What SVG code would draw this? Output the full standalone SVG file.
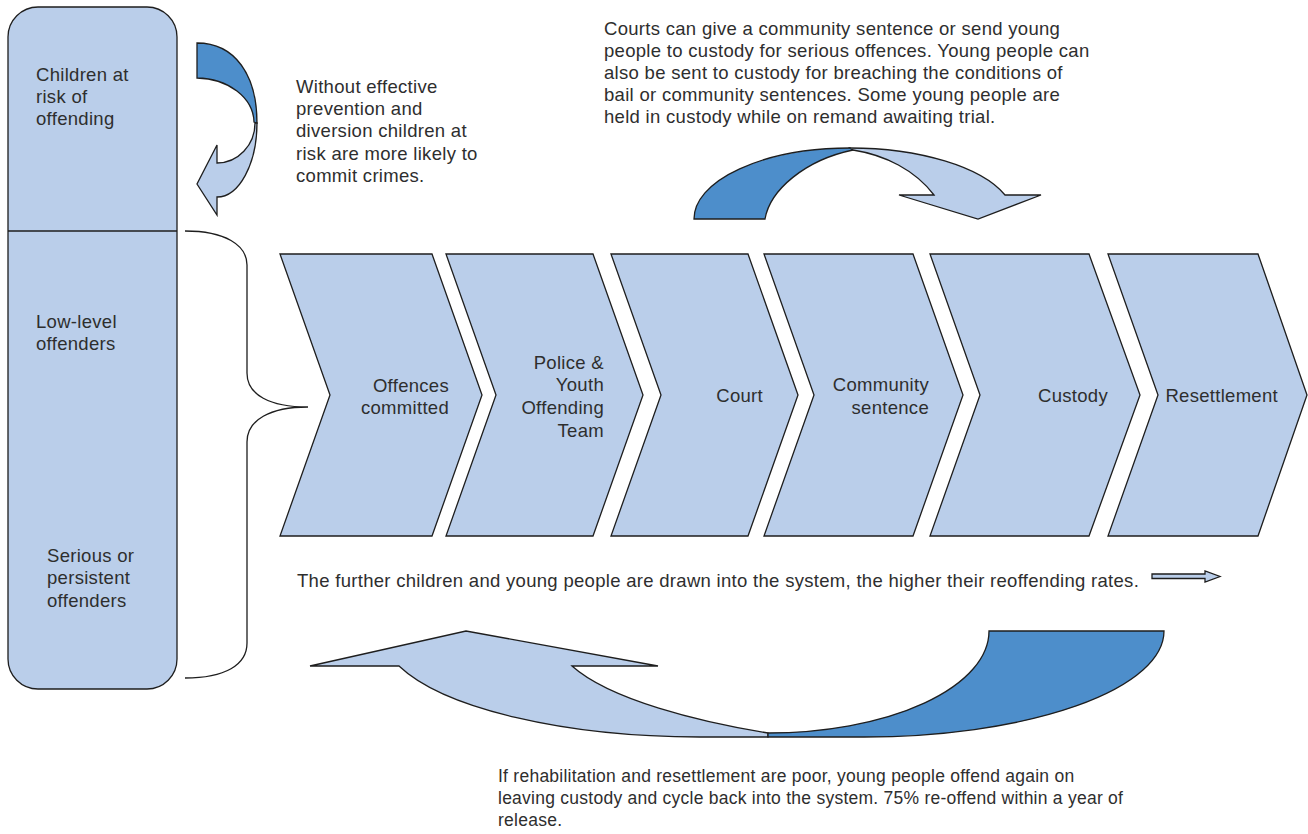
<svg xmlns="http://www.w3.org/2000/svg" width="1308" height="834" viewBox="0 0 1308 834">
<style>
.lb{fill:#BACEEA;stroke:#1e1e1e;stroke-width:1.3;stroke-linejoin:miter}
.db{fill:#4D8ECB;stroke:#1e1e1e;stroke-width:1.3}
.ln{fill:none;stroke:#1e1e1e;stroke-width:1.3}
text{font-family:"Liberation Sans",Arial,sans-serif;font-size:18.5px;letter-spacing:0.3px;fill:#2e2e2e}
.r{text-anchor:end}
.s{font-size:17.5px;letter-spacing:0.25px}
</style>
<rect width="1308" height="834" fill="#fff"/>
<g id="panel">
<rect class="lb" x="8" y="7" width="169" height="682" rx="30"/>
<line class="ln" x1="8" y1="231" x2="177" y2="231"/>
<text x="36" y="81">Children at</text>
<text x="36" y="103">risk of</text>
<text x="36" y="125">offending</text>
<text x="36" y="328">Low-level</text>
<text x="36" y="350">offenders</text>
<text x="47" y="562">Serious or</text>
<text x="47" y="584">persistent</text>
<text x="47" y="607">offenders</text>
</g>
<g id="chevron-offences">
<polygon class="lb" points="280,254 432,254 482,395 432,536 280,536 330,395"/>
<text class="r" x="449" y="392">Offences</text>
<text class="r" x="449" y="414">committed</text>
</g>
<g id="chevron-police">
<polygon class="lb" points="446,254 593,254 643,395 593,536 446,536 496,395"/>
<text class="r" x="604" y="369">Police &amp;</text>
<text class="r" x="604" y="391">Youth</text>
<text class="r" x="604" y="414">Offending</text>
<text class="r" x="604" y="437">Team</text>
</g>
<g id="chevron-court">
<polygon class="lb" points="611,254 748,254 798,395 748,536 611,536 661,395"/>
<text class="r" x="763" y="402">Court</text>
</g>
<g id="chevron-community">
<polygon class="lb" points="764,254 913,254 963,395 913,536 764,536 814,395"/>
<text class="r" x="929" y="391">Community</text>
<text class="r" x="929" y="414">sentence</text>
</g>
<g id="chevron-custody">
<polygon class="lb" points="930,254 1089,254 1140,395 1089,536 930,536 980,395"/>
<text class="r" x="1108" y="402">Custody</text>
</g>
<g id="chevron-resettlement">
<polygon class="lb" points="1108,254 1258,254 1307,395 1258,536 1108,536 1158,395"/>
<text class="r" x="1278" y="402">Resettlement</text>
</g>
<g id="connectors">
<path class="ln" d="M185,231 C225,231 247,245 247,265 L247,373 C247,395 270,407 308,407 C270,407 247,420 247,442 L247,643 C247,665 225,678 185,678"/>
<path class="db" d="M197,43 C235,43 257,75 257,123 L254,122 A58,45 0 0 0 197,78 Z"/>
<path class="lb" d="M257,123 A40,74 0 0 1 217,197 L217,215 L197,184 L217,145 L217,163 A38,40 0 0 0 255,123 Z"/>
<path class="db" d="M694,219 A156,71 0 0 1 850,148 L853,150 C805,160 770,190 765,219 Z"/>
<path class="lb" d="M850,148 A165,71 0 0 1 1005,195 L1041,195 L978,219 L899,195 L934,195 C915,170 885,155 853,150 Z"/>
<path class="lb" d="M768,733 C700,722 610,700 572,666 L658,666 L466,631 L310,666 L399,666 A319,106 0 0 0 700,737 L768,737 Z"/>
<path class="db" d="M989,631 L1164,631 A300,106 0 0 1 864,737 L768,737 L768,733 A221,102 0 0 0 989,631 Z"/>
<path class="lb" d="M1152,574 L1205,574 L1205,571 L1220,576.5 L1205,582 L1205,578.5 L1152,578.5 Z"/>
</g>
<g id="notes">
<text x="296" y="93">Without effective</text>
<text x="296" y="115">prevention and</text>
<text x="296" y="137">diversion children at</text>
<text x="296" y="160">risk are more likely to</text>
<text x="296" y="182">commit crimes.</text>
<text x="604" y="35">Courts can give a community sentence or send young</text>
<text x="604" y="57">people to custody for serious offences. Young people can</text>
<text x="604" y="79">also be sent to custody for breaching the conditions of</text>
<text x="604" y="101">bail or community sentences. Some young people are</text>
<text x="604" y="123">held in custody while on remand awaiting trial.</text>
<text x="297" y="587">The further children and young people are drawn into the system, the higher their reoffending rates.</text>
<text class="s" x="498" y="782">If rehabilitation and resettlement are poor, young people offend again on</text>
<text class="s" x="498" y="804">leaving custody and cycle back into the system. 75% re-offend within a year of</text>
<text class="s" x="498" y="826">release.</text>
</g>
</svg>
